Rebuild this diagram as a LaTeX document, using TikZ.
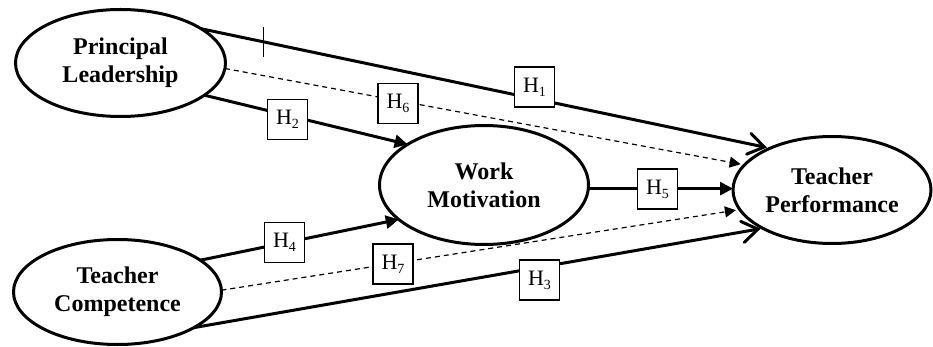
\documentclass[tikz,border=0pt]{standalone}
\usepackage{fontspec}
\setmainfont{Liberation Serif}
\usetikzlibrary{arrows.meta,shapes.geometric,calc}
\newcommand{\hlab}[1]{H\raisebox{-4pt}{\fontsize{14}{14}\selectfont #1}}
\tikzset{
  construct/.style={ellipse,draw,line width=3pt,inner sep=0pt,outer sep=0pt,align=center,
    font=\bfseries\fontsize{24}{28}\selectfont},
  hbox/.style={draw,line width=1.5pt,fill=white,minimum width=40pt,minimum height=40pt,inner sep=0pt,
    font=\fontsize{22}{22}\selectfont},
  solidpath/.style={line width=3pt},
  openv/.style={line width=3pt,line join=miter,line cap=round},
  fillhead/.style={solidpath,-{Triangle[length=13pt,width=13pt]}},
  dashpath/.style={line width=1.2pt,dash pattern=on 5pt off 4pt,-{Triangle[length=11pt,width=11pt]},shorten >=4pt}
}
\begin{document}
\begin{tikzpicture}[x=1pt,y=-1pt]
\useasboundingbox (0,0) rectangle (933,347);
\node[construct,minimum width=210pt,minimum height=107pt] (PL) at (120.5,63) {Principal\\Leadership};
\node[construct,minimum width=208pt,minimum height=105pt] (TC) at (117.5,292) {Teacher\\Competence};
\node[construct,minimum width=209pt,minimum height=119pt] (WM) at (484,185) {Work\\Motivation};
\node[construct,minimum width=198pt,minimum height=107pt] (TP) at (832,190) {Teacher\\Performance};
% end points of the open-headed connectors (tips stop just short of the ellipse)
\coordinate (a1) at (PL.23.8);
\coordinate (b1) at ($(TP.146)!6pt!(a1)$);
\coordinate (a3) at (TC.-25.2);
\coordinate (b3) at ($(TP.209)!5pt!(a3)$);
% connectors
\draw[solidpath] (a1) -- (b1);
\draw[openv] ($(b1)!19pt!34:(a1)$) -- (b1) -- ($(b1)!19pt!-34:(a1)$);
\draw[dashpath] (PL.-3.2) -- (TP.164);
\draw[fillhead] (PL.-21.9) -- (WM.152);
\draw[fillhead] (TC.21.1) -- (WM.202.7);
\draw[dashpath] (TC.1.6) -- (TP.192);
\draw[solidpath] (a3) -- (b3);
\draw[openv] ($(b3)!19pt!34:(a3)$) -- (b3) -- ($(b3)!19pt!-34:(a3)$);
\draw[fillhead] (WM.-2) -- (WM.-2 -| TP.west);
% hypothesis labels
\node[hbox] (h1) at (534.5,87) {\hlab{1}};
\node[hbox] (h6) at (398,103.5) {\hlab{6}};
\node[hbox] (h2) at (287.5,119.5) {\hlab{2}};
\node[hbox] (h4) at (284.5,242.5) {\hlab{4}};
\node[hbox] (h7) at (393,264) {\hlab{7}};
\node[hbox] (h3) at (539.5,280) {\hlab{3}};
\node[hbox] (h5) at (657.5,189) {\hlab{5}};
% stray cursor mark
\draw[line width=0.8pt] (263,27) -- (263,57);
\end{tikzpicture}
\end{document}
